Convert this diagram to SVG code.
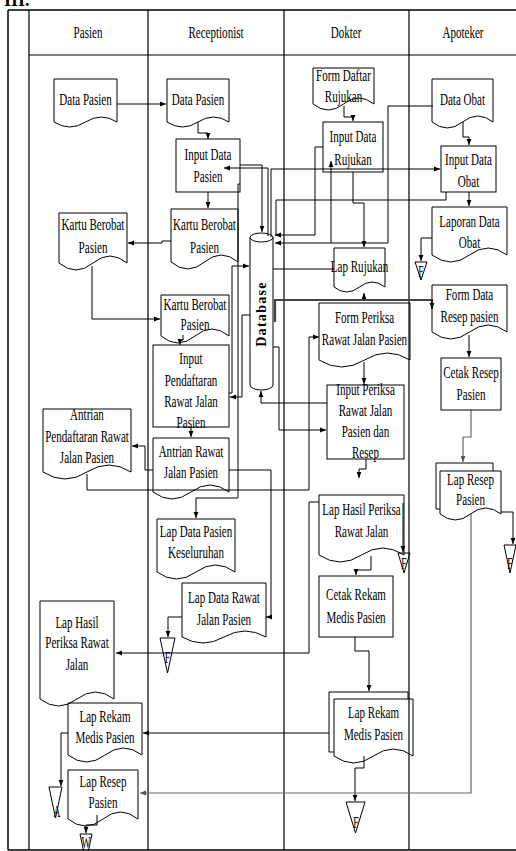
<svg xmlns="http://www.w3.org/2000/svg" width="516" height="851" viewBox="0 0 516 851">
<style>
.frame{stroke:#000;stroke-width:1.5;fill:none}
.lane{stroke:#000;stroke-width:1.2;fill:none}
.shape{stroke:#000;stroke-width:1;fill:none}
.c{stroke:#000;stroke-width:1;fill:none;marker-end:url(#ah)}
.cn{stroke:#000;stroke-width:1;fill:none}
.cg{stroke:#666;stroke-width:1.2;fill:none;marker-end:url(#ahg)}
.thick{stroke:#444;stroke-width:2.2;fill:none;marker-end:url(#ah)}
.t{font-family:"Liberation Serif","Times New Roman",serif;font-size:16.5px;text-anchor:middle;fill:#000}
.db{font-family:"Liberation Serif","Times New Roman",serif;font-size:14px;font-weight:bold;letter-spacing:1.3px;text-anchor:middle}
.ft{font-family:"Liberation Serif","Times New Roman",serif;font-size:16px;text-anchor:middle}
.title{font-family:"Liberation Serif","Times New Roman",serif;font-size:18px;font-weight:bold}
</style>
<defs>
<marker id="ah" viewBox="0 0 10 10" refX="10" refY="5" markerWidth="6" markerHeight="6" markerUnits="userSpaceOnUse" orient="auto"><path d="M0,1 L10,5 L0,9 Z" fill="#000"/></marker>
<marker id="ahg" viewBox="0 0 10 10" refX="10" refY="5" markerWidth="6" markerHeight="6" markerUnits="userSpaceOnUse" orient="auto"><path d="M0,1 L10,5 L0,9 Z" fill="#555"/></marker>
</defs>
<rect width="516" height="851" fill="#fff"/>
<text class="title" x="4" y="6">III.</text>

<g id="frame">
<path class="frame" d="M8,10 H516 M8,10 V850 M8,850 H516"/>
<path class="lane" d="M29,10 V850 M148,10 V850 M284,10 V850 M409,10 V850 M29,55 H516"/>
<text class="t" transform="translate(88,38) scale(0.67,1)">Pasien</text>
<text class="t" transform="translate(216,38) scale(0.67,1)">Receptionist</text>
<text class="t" transform="translate(346,38) scale(0.67,1)">Dokter</text>
<text class="t" transform="translate(463,38) scale(0.67,1)">Apoteker</text>
</g>

<g id="connectors">
<path class="c" d="M117,104 H166"/>
<path class="c" d="M198,122 V133 H208 V139"/>
<path class="c" d="M240,165 H262 V232"/>
<path class="c" d="M268,236 V168 H224"/>
<path class="c" d="M208,192 V208"/>
<path class="c" d="M171,241 H162 V243 H128"/>
<path class="c" d="M92,266 V319 H160"/>
<path class="c" d="M183,335 V340 H180 V345"/>
<path class="c" d="M229,393 H232 V266 H249"/>
<path class="c" d="M250,315 H242 V397 H230"/>
<path class="c" d="M191,427 V437"/>
<path class="c" d="M153,470 H145 V446 H132"/>
<path class="c" d="M229,470 H271 V617 H266"/>
<path class="c" d="M87,474 V490 H309 V337 H319"/>
<path class="c" d="M240,184 H238 V498 H196 V518"/>
<path class="c" d="M182,617 H168 V637"/>
<path class="c" d="M344,106 V117 H353 V121"/>
<path class="c" d="M323,147 H315 V235 H275"/>
<path class="c" d="M271,237 V169 H440"/>
<path class="cn" d="M446,192 V200 H276 V236"/>
<path class="c" d="M433,106 H388 V243 H275"/>
<path class="c" d="M331,243 V161"/>
<path class="c" d="M353,172 V203 H364 V247"/>
<path class="cn" d="M273,269 H334"/>
<path class="thick" d="M275,322 V300 H432 V309"/>
<path class="c" d="M364,300 V293"/>
<path class="c" d="M273,347 H279 V430 H326"/>
<path class="c" d="M327,403 H261 V391"/>
<path class="c" d="M364,362 V384"/>
<path class="c" d="M366,459 V469 H359 V478"/>
<path class="c" d="M319,502 H309 V653 H116"/>
<path class="c" d="M403,503 V552"/>
<path class="c" d="M371,556 V570 H356 V575"/>
<path class="c" d="M355,637 V651 H369 V691"/>
<path class="c" d="M329,733 H143"/>
<path class="c" d="M364,756 V768 H355 V801"/>
<path class="cg" d="M471,514 V793 H140"/>
<path class="c" d="M463,122 V137 H469 V145"/>
<path class="c" d="M469,192 V206"/>
<path class="c" d="M432,238 H421 V261"/>
<path class="c" d="M469,335 V357"/>
<path class="cg" d="M471,410 V437 H463 V462"/>
<path class="c" d="M501,512 H513 V544"/>
<path class="c" d="M68,733 H61 V786"/>
<path class="c" d="M97,815 V825 H86 V833"/>
</g>

<g id="p_datapasien">
<path class="shape" d="M54,79 H117 V122 Q101.25,112 85.5,122 T54,122 Z"/>
<text class="t" transform="translate(85.5,105) scale(0.67,1)">Data Pasien</text>
</g>
<g id="p_kartu">
<path class="shape" d="M59,213 H127 V263 Q110,249 93,263 T59,263 Z"/>
<text class="t" transform="translate(93,230) scale(0.67,1)"><tspan x="0" y="0">Kartu Berobat</tspan><tspan x="0" y="23">Pasien</tspan></text>
</g>
<g id="p_antrian">
<path class="shape" d="M43,409 H131 V472 Q109,458 87,472 T43,472 Z"/>
<text class="t" transform="translate(87,420) scale(0.67,1)"><tspan x="0" y="0">Antrian</tspan><tspan x="0" y="22">Pendaftaran Rawat</tspan><tspan x="0" y="43">Jalan Pasien</tspan></text>
</g>
<g id="p_laphasil">
<path class="shape" d="M40,601 H114 V699 Q95.5,685 77,699 T40,699 Z"/>
<text class="t" transform="translate(77,628) scale(0.67,1)"><tspan x="0" y="0">Lap Hasil</tspan><tspan x="0" y="20">Periksa Rawat</tspan><tspan x="0" y="42">Jalan</tspan></text>
</g>
<g id="p_laprekam">
<path class="shape" d="M68,703 H142 V755 Q123.5,741 105,755 T68,755 Z"/>
<text class="t" transform="translate(105,722) scale(0.67,1)"><tspan x="0" y="0">Lap Rekam</tspan><tspan x="0" y="21">Medis Pasien</tspan></text>
</g>
<g id="p_lapresep">
<path class="shape" d="M68,770 H138 V819 Q120.5,805 103,819 T68,819 Z"/>
<text class="t" transform="translate(103,787) scale(0.67,1)"><tspan x="0" y="0">Lap Resep</tspan><tspan x="0" y="21">Pasien</tspan></text>
</g>

<g id="r_datapasien">
<path class="shape" d="M167,79 H229 V122 Q213.5,112 198,122 T167,122 Z"/>
<text class="t" transform="translate(198,105) scale(0.67,1)">Data Pasien</text>
</g>
<g id="r_inputdata">
<rect class="shape" x="176" y="139" width="64" height="53"/>
<text class="t" transform="translate(208,160) scale(0.67,1)"><tspan x="0" y="0">Input Data</tspan><tspan x="0" y="22">Pasien</tspan></text>
</g>
<g id="r_kartu1">
<path class="shape" d="M171,209 H238 V262 Q221.25,248 204.5,262 T171,262 Z"/>
<text class="t" transform="translate(204.5,230) scale(0.67,1)"><tspan x="0" y="0">Kartu Berobat</tspan><tspan x="0" y="23">Pasien</tspan></text>
</g>
<g id="r_kartu2">
<path class="shape" d="M161,295 H229 V336 Q212,322 195,336 T161,336 Z"/>
<text class="t" transform="translate(195,310) scale(0.67,1)"><tspan x="0" y="0">Kartu Berobat</tspan><tspan x="0" y="20">Pasien</tspan></text>
</g>
<g id="r_inputpendaftaran">
<rect class="shape" x="153" y="345" width="76" height="82"/>
<text class="t" transform="translate(191,364) scale(0.67,1)"><tspan x="0" y="0">Input</tspan><tspan x="0" y="22">Pendaftaran</tspan><tspan x="0" y="43">Rawat Jalan</tspan><tspan x="0" y="64">Pasien</tspan></text>
</g>
<g id="r_antrian">
<path class="shape" d="M153,438 H229 V492 Q210,478 191,492 T153,492 Z"/>
<text class="t" transform="translate(191,457) scale(0.67,1)"><tspan x="0" y="0">Antrian  Rawat</tspan><tspan x="0" y="21">Jalan Pasien</tspan></text>
</g>
<g id="r_lapdatapasien">
<path class="shape" d="M157,519 H235 V572 Q215.5,558 196,572 T157,572 Z"/>
<text class="t" transform="translate(196,537) scale(0.67,1)"><tspan x="0" y="0">Lap Data Pasien</tspan><tspan x="0" y="21">Keseluruhan</tspan></text>
</g>
<g id="r_lapdatarawat">
<path class="shape" d="M182,583 H266 V637 Q245,625 224,637 T182,637 Z"/>
<text class="t" transform="translate(224,603) scale(0.67,1)"><tspan x="0" y="0">Lap Data Rawat</tspan><tspan x="0" y="22">Jalan Pasien</tspan></text>
</g>

<g id="database">
<path class="shape" d="M250,237.5 V385 A11.5,5 0 0 0 273,385 V237.5"/>
<ellipse class="shape" cx="261.5" cy="237.5" rx="11.5" ry="4.5"/>
<text class="db" transform="translate(266,314) rotate(-90)">Database</text>
</g>

<g id="d_formdaftar">
<path class="shape" d="M313,68 H374 V104 Q358.75,92 343.5,104 T313,104 Z"/>
<text class="t" transform="translate(343.5,81) scale(0.67,1)"><tspan x="0" y="0">Form Daftar</tspan><tspan x="0" y="21">Rujukan</tspan></text>
</g>
<g id="d_inputrujukan">
<rect class="shape" x="323" y="122" width="60" height="50"/>
<text class="t" transform="translate(353,142) scale(0.67,1)"><tspan x="0" y="0">Input Data</tspan><tspan x="0" y="23">Rujukan</tspan></text>
</g>
<g id="d_laprujukan">
<path class="shape" d="M334,248 H385 V287 Q372.25,277 359.5,287 T334,287 Z"/>
<text class="t" transform="translate(359.5,272) scale(0.67,1)">Lap Rujukan</text>
</g>
<g id="d_formperiksa">
<path class="shape" d="M319,303 H410 V360 Q387.25,346 364.5,360 T319,360 Z"/>
<text class="t" transform="translate(364.5,323) scale(0.67,1)"><tspan x="0" y="0">Form Periksa</tspan><tspan x="0" y="22">Rawat Jalan Pasien</tspan></text>
</g>
<g id="d_inputperiksa">
<rect class="shape" x="327" y="385" width="77" height="74"/>
<text class="t" transform="translate(365.5,395) scale(0.67,1)"><tspan x="0" y="0">Input Periksa</tspan><tspan x="0" y="21">Rawat Jalan</tspan><tspan x="0" y="42">Pasien dan</tspan><tspan x="0" y="63">Resep</tspan></text>
</g>
<g id="d_laphasil">
<path class="shape" d="M319,495 H404 V555 Q382.75,541 361.5,555 T319,555 Z"/>
<text class="t" transform="translate(361.5,515) scale(0.67,1)"><tspan x="0" y="0">Lap Hasil Periksa</tspan><tspan x="0" y="22">Rawat Jalan</tspan></text>
</g>
<g id="d_cetakrekam">
<rect class="shape" x="319" y="576" width="74" height="61"/>
<text class="t" transform="translate(356,600) scale(0.67,1)"><tspan x="0" y="0">Cetak  Rekam</tspan><tspan x="0" y="23">Medis Pasien</tspan></text>
</g>
<g id="d_laprekam">
<path class="shape" d="M334,752 H329 V692 H408 V699"/>
<path class="shape" d="M334,699 H413 V756 Q393.25,742 373.5,756 T334,756 Z"/>
<text class="t" transform="translate(373.5,718) scale(0.67,1)"><tspan x="0" y="0">Lap Rekam</tspan><tspan x="0" y="22">Medis Pasien</tspan></text>
</g>

<g id="a_dataobat">
<path class="shape" d="M432,79 H493 V122 Q477.75,110 462.5,122 T432,122 Z"/>
<text class="t" transform="translate(462.5,105) scale(0.67,1)">Data Obat</text>
</g>
<g id="a_inputobat">
<rect class="shape" x="441" y="146" width="55" height="46"/>
<text class="t" transform="translate(468.5,165) scale(0.67,1)"><tspan x="0" y="0">Input Data</tspan><tspan x="0" y="22">Obat</tspan></text>
</g>
<g id="a_lapobat">
<path class="shape" d="M432,207 H507 V255 Q488.25,241 469.5,255 T432,255 Z"/>
<text class="t" transform="translate(469.5,227) scale(0.67,1)"><tspan x="0" y="0">Laporan Data</tspan><tspan x="0" y="21">Obat</tspan></text>
</g>
<g id="a_formresep">
<path class="shape" d="M432,285 H507 V332 Q488.25,318 469.5,332 T432,332 Z"/>
<text class="t" transform="translate(469.5,300) scale(0.67,1)"><tspan x="0" y="0">Form Data</tspan><tspan x="0" y="22">Resep pasien</tspan></text>
</g>
<g id="a_cetakresep">
<rect class="shape" x="441" y="358" width="60" height="52"/>
<text class="t" transform="translate(471,378) scale(0.67,1)"><tspan x="0" y="0">Cetak Resep</tspan><tspan x="0" y="22">Pasien</tspan></text>
</g>
<g id="a_lapresep">
<path class="shape" d="M440,509 H436 V463 H493 V471"/>
<path class="shape" d="M440,471 H501 V514 Q485.75,502 470.5,514 T440,514 Z"/>
<text class="t" transform="translate(470.5,485) scale(0.67,1)"><tspan x="0" y="0">Lap Resep</tspan><tspan x="0" y="20">Pasien</tspan></text>
</g>

<g id="off_f1"><polygon class="shape" points="415,262 427,262 421,280"/><text class="ft" transform="translate(421,277) scale(0.6,1)">F</text></g>
<g id="off_f2"><polygon class="shape" points="398,553 410,553 404,573"/><text class="ft" transform="translate(404,569) scale(0.6,1)">F</text></g>
<g id="off_f3"><polygon class="shape" points="504,545 516,545 510,573"/><text class="ft" transform="translate(510,569) scale(0.6,1)">F</text></g>
<g id="off_f4"><polygon class="shape" points="160,638 175,638 167.5,673"/><text class="ft" transform="translate(167.5,663) scale(0.6,1)">F</text></g>
<g id="off_a"><polygon class="shape" points="49,787 62,787 55.5,818"/><text class="ft" transform="translate(57,817) scale(0.6,1)">A</text></g>
<g id="off_w"><polygon class="shape" points="80,834 92,834 86,862"/><text class="ft" transform="translate(86,848) scale(0.6,1)">W</text></g>
<g id="off_f5"><polygon class="shape" points="346,802 365,802 355.5,833"/><text class="ft" transform="translate(356,828) scale(0.6,1)">F</text></g>
</svg>
